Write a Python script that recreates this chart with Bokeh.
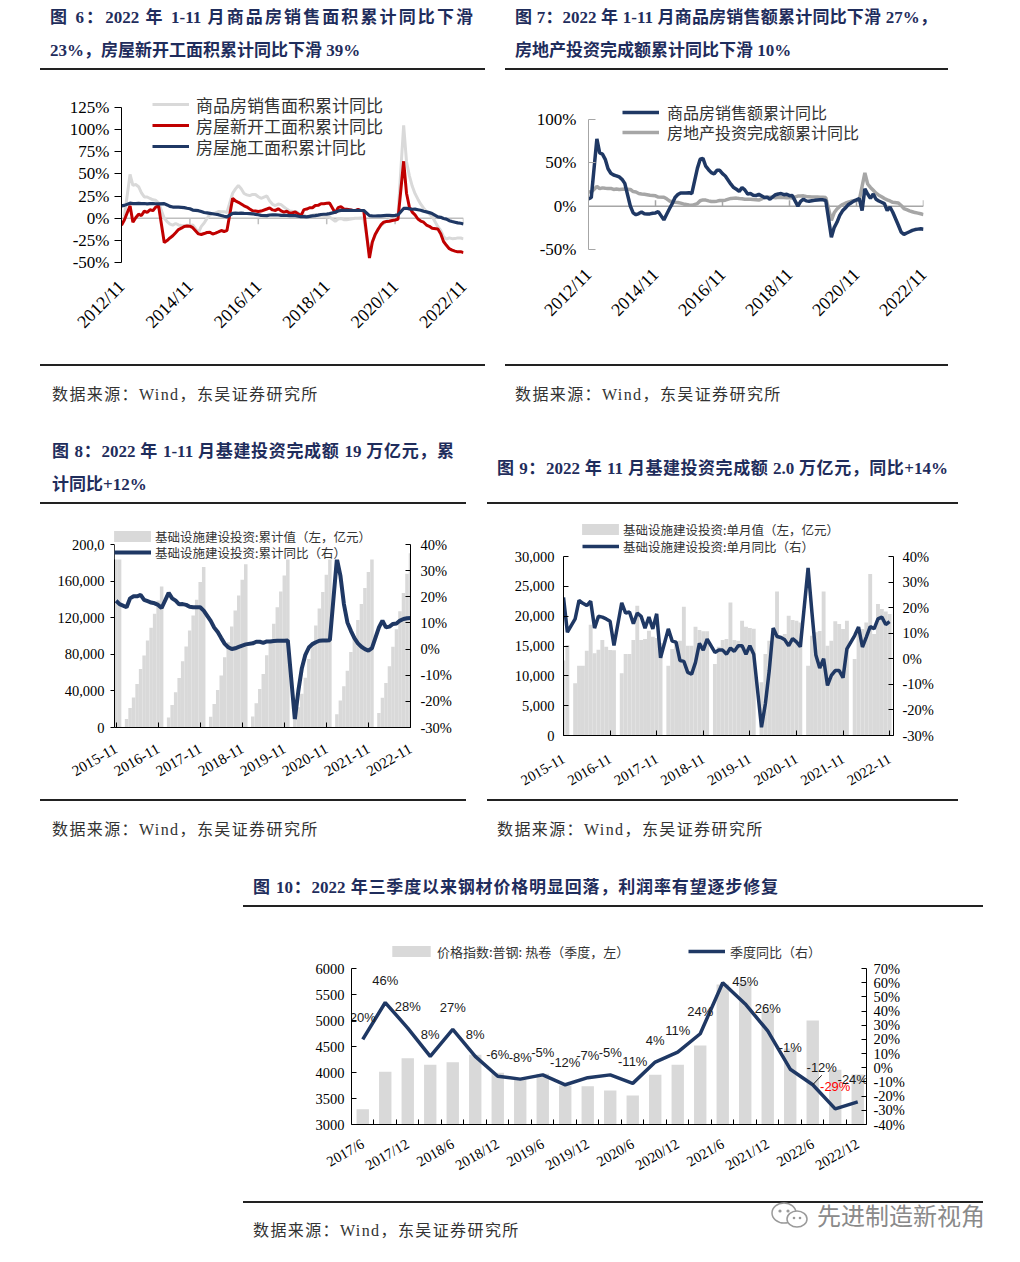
import math
from bokeh.plotting import figure
from bokeh.models import (Range1d, LinearAxis, FixedTicker, PrintfTickFormatter,
                          NumeralTickFormatter, Span, Legend, LegendItem, Div, Spacer,
                          ColumnDataSource, BoxAnnotation)
from bokeh.layouts import row, column
from bokeh.core.properties import value
from bokeh.embed import file_html
from bokeh.resources import INLINE

# ======================= DATA =======================
def months_from(y, m, n, sep):
    out = []
    for _ in range(n):
        out.append(f"{y}{sep}{m}")
        m += 1
        if m == 13:
            m, y = 1, y + 1
    return out

# Fig 6 / Fig 7 : monthly, 2012/11 .. 2022/11 (January not published -> None)
f6_months = months_from(2012, 11, 121, "/")

f6_sales_area = [
    None, 1.8,
    None, 49.5, 37.1, 38.0, 35.6, 28.7, 24.0, 24.0, 22.3, 20.8, 20.3, 17.3,
    None, -0.1, -3.8, -6.7, -7.8, -6.0, -7.6, -8.3, -8.6, -7.8, -8.2, -7.6,
    None, -16.3, -9.2, -5.4, -0.2, 3.9, 5.1, 6.1, 7.5, 7.2, 7.4, 6.5,
    None, 28.2, 33.1, 37.0, 33.2, 27.9, 26.4, 25.5, 26.9, 26.8, 24.3, 22.5,
    None, 25.1, 19.5, 15.7, 14.3, 16.1, 15.3, 12.7, 10.3, 8.2, 7.9, 7.7,
    None, 4.1, 3.6, 1.3, 2.9, 3.3, 4.2, 4.0, 2.9, 2.2, 1.4, 1.3,
    None, -3.6, -0.9, -0.3, -1.6, -1.8, -1.3, -0.6, -0.1, 0.1, 0.2, -0.1,
    None, -39.9, -26.3, -19.3, -12.3, -8.4, -5.8, -3.3, -1.8, 0.0, 1.3, 2.6,
    None, 104.9, 63.8, 48.1, 36.3, 27.7, 21.5, 15.9, 11.3, 7.5, 4.8, 1.9,
    None, -9.6, -13.8, -20.9, -23.6, -22.2, -23.1, -23.0, -22.2, -22.3, -23.3,
]
f6_new_start = [
    -8.0, -2.0,
    None, 14.0, -4.5, 0.5, 4.5, 3.0, 8.0, 6.5, 9.5, 8.5, 12.5, 14.0,
    None, -27.4, -25.2, -22.3, -19.8, -16.4, -12.8, -11.3, -9.3, -8.8, -9.0, -10.7,
    None, -17.7, -18.4, -17.3, -16.1, -15.8, -17.8, -16.8, -15.4, -13.9, -15.0, -14.0,
    None, 22.5, 19.5, 18.0, 16.0, 14.0, 12.6, 10.5, 8.5, 8.2, 7.6, 8.1,
    None, 10.4, 11.6, 9.4, 8.8, 10.6, 8.3, 6.9, 7.8, 5.6, 6.2, 7.0,
    None, 2.9, 9.7, 10.3, 11.8, 11.8, 14.4, 14.5, 16.4, 16.3, 16.8, 17.2,
    None, 6.0, 11.9, 13.1, 10.5, 10.1, 9.5, 8.9, 8.6, 10.0, 8.6, 8.5,
    None, -44.9, -27.2, -18.4, -12.8, -7.6, -4.5, -3.6, -3.4, -2.6, -2.0, -1.2,
    None, 64.3, 28.2, 12.8, 6.9, 3.8, -0.9, -3.2, -4.5, -7.7, -9.1, -11.4,
    None, -12.2, -17.5, -26.3, -30.6, -34.4, -36.1, -37.2, -38.0, -37.8, -38.9,
]
f6_construction = [
    14.0, 14.5,
    None, 17.0, 16.5, 16.5, 16.8, 16.5, 16.6, 16.2, 16.4, 16.5, 16.3, 16.1,
    None, 16.5, 15.0, 13.3, 12.6, 12.6, 12.5, 12.3, 12.0, 11.3, 10.7, 9.2,
    None, 8.5, 7.5, 6.5, 6.0, 5.5, 5.0, 4.5, 4.0, 3.0, 2.2, 1.5,
    None, 5.5, 5.8, 5.4, 5.8, 5.5, 5.3, 5.2, 5.0, 4.4, 3.9, 3.2,
    None, 2.9, 3.6, 3.8, 3.8, 3.6, 3.3, 3.2, 3.1, 3.0, 2.9, 3.0,
    None, 1.7, 1.8, 1.6, 2.0, 2.6, 3.0, 3.5, 4.2, 4.5, 4.7, 5.2,
    None, 6.8, 8.2, 8.8, 8.8, 8.8, 9.0, 8.8, 8.7, 9.0, 8.7, 8.7,
    None, 2.9, 2.6, 2.5, 2.6, 2.6, 2.9, 3.1, 3.1, 3.0, 3.2, 3.7,
    None, 11.0, 11.2, 10.5, 10.1, 10.2, 9.6, 9.0, 7.9, 7.1, 6.3, 5.2,
    None, 1.5, 1.0, -0.3, -1.0, -2.8, -3.7, -4.5, -5.3, -5.7, -6.5,
]

f7_sales_value = [
    8.5, 10.0,
    None, 77.7, 61.4, 60.0, 54.0, 43.2, 38.0, 36.0, 35.0, 33.7, 31.0, 26.3,
    None, -0.1, -7.7, -9.9, -8.5, -6.7, -8.7, -8.9, -8.9, -8.1, -7.8, -6.3,
    None, -15.8, -9.3, -3.0, 3.0, 10.0, 13.4, 15.3, 15.3, 15.1, 15.6, 14.4,
    None, 43.6, 54.1, 55.2, 46.1, 42.1, 38.7, 37.2, 41.3, 41.3, 37.5, 34.8,
    None, 25.4, 21.5, 19.5, 17.1, 21.5, 18.8, 14.1, 14.6, 12.6, 12.2, 13.7,
    None, 10.0, 10.4, 8.0, 10.6, 13.2, 14.1, 14.5, 13.3, 13.7, 12.1, 12.2,
    None, 0.0, 5.6, 8.1, 6.1, 5.6, 6.2, 6.7, 7.1, 7.3, 7.3, 6.5,
    None, -35.9, -24.7, -18.6, -10.6, -5.4, -2.1, 1.6, 3.7, 5.8, 7.2, 8.7,
    -5.0, 20.0, 14.0, 9.0, 14.0, 8.0, 6.0, 4.5, 3.0, -5.0, -1.0, -7.0,
    None, -22.0, -30.0, -32.6, -31.0, -29.5, -28.0, -27.0, -26.5, -26.0, -26.6,
]
f7_investment = [
    16.7, 16.2,
    None, 22.8, 20.2, 21.1, 20.6, 20.3, 20.5, 19.3, 19.7, 19.2, 19.5, 19.8,
    None, 19.3, 16.8, 16.4, 14.7, 14.1, 13.7, 13.2, 12.5, 12.4, 11.9, 10.5,
    None, 10.4, 8.5, 6.0, 5.1, 4.6, 4.3, 3.5, 2.6, 2.0, 1.3, 1.0,
    None, 3.0, 6.2, 7.2, 7.0, 6.1, 5.3, 5.4, 5.8, 6.6, 6.5, 6.9,
    None, 8.9, 9.1, 9.3, 8.8, 8.5, 7.9, 7.9, 8.1, 7.8, 7.5, 7.0,
    None, 9.9, 10.4, 10.3, 10.2, 9.7, 10.2, 10.1, 9.9, 9.7, 9.7, 9.5,
    None, 11.6, 11.8, 11.9, 11.2, 10.9, 10.6, 10.5, 10.5, 10.3, 10.2, 9.9,
    None, -16.3, -7.7, -3.3, -0.3, 1.9, 3.4, 4.6, 5.6, 6.3, 6.8, 7.0,
    None, 38.3, 25.6, 21.6, 18.3, 15.0, 12.7, 10.9, 8.8, 7.2, 6.0, 4.4,
    None, 3.7, 0.7, -2.7, -4.0, -5.4, -6.4, -7.4, -8.0, -8.8, -9.8,
]

# Fig 8 / Fig 9 : monthly, 2015-11 .. 2022-11
f8_months = months_from(2015, 11, 85, "-")

f8_cum_value = [
    186000, 186000,
    None, 9200, 21200, 32900, 47500, 64000, 78600, 95000, 108900, 124200, 138800, 154200,
    None, 11000, 24500, 38400, 54100, 72300, 88400, 106000, 122400, 139600, 158900, 175300,
    None, 11700, 25600, 41000, 56700, 76700, 93200, 110400, 127900, 144300, 161500, 178300,
    None, 12000, 26500, 42000, 58500, 79000, 96000, 113500, 131500, 148500, 166000, 184500,
    None, 8500, 22000, 37000, 54500, 75000, 93000, 111500, 130000, 148000, 167000, 186500,
    None, 14500, 29500, 45000, 62000, 82500, 100000, 117500, 135000, 152500, 170000, 187500,
    None, 15800, 32500, 48600, 67000, 88300, 107500, 127000, 147000, 168000, 190400,
]
f8_cum_yoy = [
    18.5, 17.2,
    None, 16.0, 19.4, 20.2, 20.2, 20.7, 18.8, 18.3, 17.8, 17.5, 16.9, 15.7,
    None, 21.5, 19.4, 18.5, 17.1, 17.2, 16.9, 16.2, 16.0, 16.0, 16.0, 14.7,
    None, 10.8, 8.2, 6.5, 4.2, 2.0, 0.7, 0.0, 0.3, 0.8, 1.3, 1.8,
    None, 2.2, 2.8, 2.8, 2.4, 2.9, 2.9, 3.1, 3.2, 3.2, 3.2, 3.3,
    None, -26.8, -16.0, -7.3, -2.2, 0.6, 1.9, 2.6, 3.2, 3.3, 3.3, 3.4,
    None, 34.5, 28.1, 17.2, 10.2, 7.0, 4.2, 2.2, 0.9, 0.0, -0.6, 0.4,
    None, 8.3, 10.9, 8.3, 8.6, 9.6, 9.8, 10.9, 11.5, 11.8, 11.9,
]
f9_month_value = [
    12550, 15170,
    None, 8750, 11710, 11710, 14220, 18570, 13770, 14390, 16000, 14890, 14330, 14300,
    None, 10430, 13660, 13660, 16000, 21750, 16000, 16170, 17570, 16560, 16340, 15500,
    None, 11710, 14500, 15610, 15900, 21580, 15060, 15060, 18240, 17680, 17460, 17460,
    None, 12000, 14890, 16000, 16170, 22300, 16000, 15900, 19240, 18240, 18000, 17900,
    None, 8920, 13660, 15890, 16730, 24150, 16730, 17010, 20080, 19350, 19240, 18950,
    None, 11710, 16730, 17290, 17500, 24150, 15060, 15900, 19130, 18690, 17850, 19240,
    None, 12830, 17570, 17850, 18950, 27050, 17010, 22030, 21200, 20800, 20360,
]
f9_month_yoy = [
    24.0, 10.4,
    None, 15.6, 22.8, 21.7, 20.8, 22.5, 12.0, 16.6, 16.3, 15.6, 14.7, 5.2,
    None, 21.9, 17.9, 18.3, 13.7, 17.9, 16.6, 12.0, 16.3, 11.7, 17.6, 0.4,
    None, 11.7, 6.9, 6.5, -0.7, -1.0, -5.3, -6.0, -1.4, 6.0, 3.4, 7.7,
    None, 2.5, 3.4, 3.4, 1.8, 4.2, 2.9, 5.1, 5.1, 1.8, 5.1, 1.8,
    None, -26.8, -17.6, -4.6, 12.0, 8.7, 8.3, 7.4, 5.1, 7.9, 6.6, 4.7,
    None, 35.5, 18.0, 1.5, -3.6, 0.0, -10.4, -6.5, -4.6, -4.6, -7.4, 3.9,
    None, 9.1, 12.4, 4.6, 8.5, 12.6, 11.7, 15.6, 16.3, 13.4, 14.5,
]

# Fig 10 : quarterly
f10_quarters = ["2017/6", "2017/9", "2017/12", "2018/3", "2018/6", "2018/9", "2018/12",
                "2019/3", "2019/6", "2019/9", "2019/12", "2020/3", "2020/6", "2020/9",
                "2020/12", "2021/3", "2021/6", "2021/9", "2021/12", "2022/3", "2022/6",
                "2022/9", "2022/12"]
f10_price = [3295, 4013, 4276, 4147, 4198, 4340, 3994, 3859, 3974, 3750, 3737, 3654,
             3558, 3955, 4148, 4519, 5692, 5737, 5192, 4462, 5000, 4051, 3962]
f10_yoy = [20, 46, 28, 8, 27, 8, -6, -8, -5, -12, -7, -5, -11, 4, 11, 24, 60, 45, 26,
           -1, -12, -29, -24]
f10_yoy_labels = ["20%", "46%", "28%", "8%", "27%", "8%", "-6%", "-8%", "-5%", "-12%",
                  "-7%", "-5%", "-11%", "4%", "11%", "24%", "", "45%", "26%", "-1%",
                  "-12%", "-29%", "-24%"]

# ======================= STYLE =======================
NAVY = "#1f3864"
RED = "#c00000"
LIGHT = "#d9d9d9"
MID = "#a6a6a6"
BLACK = "#000000"
SERIF = "Liberation Serif"
CJK = "Noto Sans CJK SC"
SANS = "Liberation Sans"


def pts(vals):
    xs = [i for i, v in enumerate(vals) if v is not None]
    ys = [v for v in vals if v is not None]
    return xs, ys


def ext(y0, y1, fh, extra):
    """range whose [y0, y1] fills fh px, with `extra` px of headroom above for legends"""
    return Range1d(y0, y1 + extra * (y1 - y0) / fh)


def make_fig(xr, y0, y1, left, right, top, bottom, fw, fh, extra):
    p = figure(width=left + fw + right, height=top + fh + bottom, x_range=xr,
               y_range=ext(y0, y1, fh, extra),
               output_backend="svg", toolbar_location=None, title=None, margin=0,
               min_border_left=left, min_border_right=right,
               min_border_top=top - extra, min_border_bottom=bottom)
    p.outline_line_color = None
    p.xgrid.visible = False
    p.ygrid.visible = False
    p.background_fill_color = "white"
    p.border_fill_color = "white"
    return p


def style_axis(ax, size, tick_in=0, tick_out=0, standoff=5, line_color=BLACK,
               show_line=True, font=SERIF):
    ax.major_label_text_font = font
    ax.major_label_text_font_size = f"{size}px"
    ax.major_label_text_color = BLACK
    ax.major_label_standoff = standoff
    ax.axis_line_color = line_color if show_line else None
    ax.axis_line_width = 1
    ax.major_tick_line_color = line_color if (tick_in or tick_out) else None
    ax.major_tick_in = tick_in
    ax.major_tick_out = tick_out
    ax.minor_tick_line_color = None


def add_legend(p, label, renderer, x, y, size, h, gw, gh, standoff):
    lg = Legend(items=[LegendItem(label=value(label), renderers=[renderer])],
                location=(x, y), orientation="vertical", margin=0, padding=0,
                spacing=0, glyph_width=gw, glyph_height=gh, label_height=h,
                label_standoff=standoff, label_text_font=CJK,
                label_text_font_size=f"{size}px", label_text_color="#333333",
                border_line_color=None, background_fill_alpha=0.0)
    p.add_layout(lg, "center")


# ----------------------- Fig 6 -----------------------
p6 = make_fig(Range1d(0, 120), -50, 125, 81, 22, 37, 93, 342, 155, 22)
ya = p6.yaxis[0]
ya.ticker = FixedTicker(ticks=list(range(-50, 126, 25)))
ya.formatter = PrintfTickFormatter(format="%d%%")
ya.bounds = (-50, 125)
style_axis(ya, 17, tick_out=7, standoff=5)
xa = p6.xaxis[0]
t6 = [i for i in range(len(f6_months)) if i % 24 == 0]
xa.ticker = FixedTicker(ticks=t6)
xa.major_label_overrides = {i: f6_months[i] for i in t6}
style_axis(xa, 18, standoff=21, show_line=False)
xa.major_label_orientation = math.pi / 4
p6.add_layout(Span(location=0, dimension="width", line_color="#bfbfbf", line_width=1.5,
                   level="underlay"))
tl6 = 6 * 175 / 155
p6.segment(x0=t6[1:], y0=[0] * len(t6[1:]), x1=t6[1:], y1=[-tl6] * len(t6[1:]),
           line_color="#bfbfbf", line_width=1.5, level="underlay")
r6a = p6.line(*pts(f6_sales_area), line_color=LIGHT, line_width=3)
r6b = p6.line(*pts(f6_new_start), line_color=RED, line_width=3)
r6c = p6.line(*pts(f6_construction), line_color=NAVY, line_width=3.2)
add_legend(p6, "商品房销售面积累计同比", r6a, 31, 145, 17, 26, 37, 26, 7)
add_legend(p6, "房屋新开工面积累计同比", r6b, 31, 124, 17, 26, 37, 26, 7)
add_legend(p6, "房屋施工面积累计同比", r6c, 31, 103, 17, 26, 37, 26, 7)

# ----------------------- Fig 7 -----------------------
p7 = make_fig(Range1d(0, 120), -50, 100, 83, 27, 49, 106, 335, 130, 24)
ya = p7.yaxis[0]
ya.ticker = FixedTicker(ticks=[-50, 0, 50, 100])
ya.formatter = PrintfTickFormatter(format="%d%%")
ya.bounds = (-50, 100)
style_axis(ya, 17, tick_in=7, standoff=12, line_color=MID)
xa = p7.xaxis[0]
xa.ticker = FixedTicker(ticks=t6)
xa.major_label_overrides = {i: f6_months[i] for i in t6}
style_axis(xa, 18, standoff=22, show_line=False)
xa.major_label_orientation = math.pi / 4
p7.add_layout(Span(location=0, dimension="width", line_color=MID, line_width=1.5,
                   level="underlay"))
tl7 = 6 * 150 / 130
p7.segment(x0=t6[1:], y0=[0] * len(t6[1:]), x1=t6[1:], y1=[tl7] * len(t6[1:]),
           line_color=MID, line_width=1.5, level="underlay")
r7b = p7.line(*pts(f7_investment), line_color=MID, line_width=3.5)
r7a = p7.line(*pts(f7_sales_value), line_color=NAVY, line_width=3.5)
add_legend(p7, "商品房销售额累计同比", r7a, 34, 125, 16, 24, 37, 24, 8)
add_legend(p7, "房地产投资完成额累计同比", r7b, 34, 105, 16, 24, 37, 24, 8)

# ----------------------- Fig 8 -----------------------
E8 = 24
FW8, FH8 = 296, 183
X8 = (-0.45, 84.0)
p8 = make_fig(Range1d(*X8), 0, 200000, 74, 55, 40, 67, FW8, FH8, E8)
p8.extra_y_ranges = {"r": ext(-30, 40, FH8, E8)}
ya = p8.yaxis[0]
ya.ticker = FixedTicker(ticks=list(range(0, 200001, 40000)))
ya.formatter = NumeralTickFormatter(format="0,0")
ya.major_label_overrides = {200000: "200,0"}
ya.bounds = (0, 200000)
style_axis(ya, 14.5, tick_out=4, standoff=6)
ra = LinearAxis(y_range_name="r", ticker=FixedTicker(ticks=list(range(-30, 41, 10))),
                formatter=PrintfTickFormatter(format="%d%%"), bounds=(-30, 40))
style_axis(ra, 14.5, tick_in=5, standoff=10)
p8.add_layout(ra, "right")
xa = p8.xaxis[0]
t8 = [i for i in range(len(f8_months)) if i % 12 == 0]
xa.ticker = FixedTicker(ticks=t8)
xa.major_label_overrides = {i: f8_months[i] for i in t8}
style_axis(xa, 15, tick_in=5, standoff=20)
xa.major_label_orientation = math.radians(30)
bx, by = pts(f8_cum_value)
r8a = p8.vbar(x=bx, top=by, bottom=0, width=1.0, fill_color=LIGHT, line_color=None)
r8b = p8.line(*pts(f8_cum_yoy), y_range_name="r", line_color=NAVY, line_width=4)
# white panel behind the legend (legend box of the original), given in frame pixels
ypx8 = 200000 / FH8
xpx8 = (X8[1] - X8[0]) / FW8
p8.add_layout(BoxAnnotation(left=X8[0], right=X8[0] + 262 * xpx8,
                            bottom=168 * ypx8, top=202 * ypx8,
                            fill_color="white", fill_alpha=1.0, line_color=None))
add_legend(p8, "基础设施建设投资:累计值（左，亿元）", r8a, -5, 181, 12.5, 20, 46, 14, 0)
add_legend(p8, "基础设施建设投资:累计同比（右）", r8b, 0, 165, 12.5, 20, 37, 20, 4)

# ----------------------- Fig 9 -----------------------
E9 = 42
p9 = make_fig(Range1d(0, 85), 0, 30000, 76, 65, 52, 59, 330, 179, E9)
p9.extra_y_ranges = {"r": ext(-30, 40, 179, E9)}
ya = p9.yaxis[0]
ya.ticker = FixedTicker(ticks=list(range(0, 30001, 5000)))
ya.formatter = NumeralTickFormatter(format="0,0")
ya.bounds = (0, 30000)
style_axis(ya, 14.5, tick_in=5, standoff=9)
ra = LinearAxis(y_range_name="r", ticker=FixedTicker(ticks=list(range(-30, 41, 10))),
                formatter=PrintfTickFormatter(format="%d%%"), bounds=(-30, 40))
style_axis(ra, 14.5, tick_in=5, standoff=9)
p9.add_layout(ra, "right")
xa = p9.xaxis[0]
xa.ticker = FixedTicker(ticks=t8)
xa.major_label_overrides = {i: f8_months[i] for i in t8}
style_axis(xa, 14.5, tick_in=5, standoff=22)
xa.major_label_orientation = math.radians(30)
bx, by = pts(f9_month_value)
r9a = p9.vbar(x=bx, top=by, bottom=0, width=1.0, fill_color=LIGHT, line_color=None)
r9b = p9.line(*pts(f9_month_yoy), y_range_name="r", line_color=NAVY, line_width=3.5)
add_legend(p9, "基础设施建设投资:单月值（左，亿元）", r9a, 14, 196, 12.5, 20, 46, 14, 0)
add_legend(p9, "基础设施建设投资:单月同比（右）", r9b, 19, 179, 12.5, 20, 37, 20, 4)

# ----------------------- Fig 10 -----------------------
E10 = 34
p10 = make_fig(Range1d(-0.5, 22.39), 3000, 6000, 108, 119, 61, 73, 515, 156, E10)
p10.extra_y_ranges = {"r": ext(-40, 70, 156, E10)}
ya = p10.yaxis[0]
ya.ticker = FixedTicker(ticks=list(range(3000, 6001, 500)))
ya.formatter = PrintfTickFormatter(format="%d")
ya.bounds = (3000, 6000)
style_axis(ya, 14.5, tick_in=5, standoff=7)
ra = LinearAxis(y_range_name="r", ticker=FixedTicker(ticks=list(range(-40, 71, 10))),
                formatter=PrintfTickFormatter(format="%d%%"), bounds=(-40, 70))
style_axis(ra, 14.5, tick_in=5, standoff=7)
p10.add_layout(ra, "right")
idx = list(range(len(f10_quarters)))
xa = p10.xaxis[0]
t10 = idx[::2]
xa.ticker = FixedTicker(ticks=t10, minor_ticks=[i + 0.5 for i in idx[:-1]])
xa.major_label_overrides = {i: f10_quarters[i] for i in t10}
style_axis(xa, 14.5, standoff=18)
xa.major_tick_line_color = None
xa.minor_tick_line_color = BLACK
xa.minor_tick_in = 5
xa.minor_tick_out = 0
xa.major_label_orientation = math.radians(30)
r10a = p10.vbar(x=idx, top=f10_price, bottom=3000, width=0.55, fill_color=LIGHT,
                line_color=None)
r10b = p10.line(idx, f10_yoy, y_range_name="r", line_color=NAVY, line_width=3.5)
nudge = {20: (9, -17), 22: (-5, -22)}
label_colors = {21: "#ff0000"}
src10 = ColumnDataSource(dict(
    x=idx, y=f10_yoy, t=f10_yoy_labels,
    xo=[nudge.get(i, (0, -22))[0] for i in idx],
    yo=[nudge.get(i, (0, -22))[1] for i in idx],
    c=[label_colors.get(i, "#1a1a1a") for i in idx]))
p10.text(x="x", y="y", text="t", x_offset="xo", y_offset="yo", text_color="c",
         source=src10, y_range_name="r", text_font=value(SANS), text_font_size="13px",
         text_align="center", text_baseline="middle")
ux = 22.89 / 515
uy = 110 / 156
lead_i = 20
p10.segment(x0=[idx[lead_i]], y0=[f10_yoy[lead_i]],
            x1=[idx[lead_i] + 9 * ux], y1=[f10_yoy[lead_i] + 9.5 * uy],
            y_range_name="r", line_color="#1a1a1a", line_width=1)
add_legend(p10, "价格指数:普钢: 热卷（季度，左）", r10a, 36, 163, 13, 20, 48, 14, 2)
add_legend(p10, "季度同比（右）", r10b, 337, 163, 13, 20, 37, 20, 5)

# ======================= TEXT BLOCKS =======================
TITLE_FONT = ("font-family:'Liberation Serif','Noto Sans CJK SC',serif;font-weight:bold;"
              "font-size:17px;color:#1f2d5c;")
SRC_FONT = ("font-family:'Liberation Serif','Noto Sans CJK SC',serif;font-size:16px;"
            "color:#333333;letter-spacing:1.4px;")
SRC_TEXT = "数据来源：Wind，东吴证券研究所"


def rule(left, top, width):
    return (f'<div style="position:absolute;left:{left}px;top:{top}px;width:{width}px;'
            f'height:2px;background:#222222;"></div>')


def title_div(width, height, lines, left, text_w, tops, rule_top, rule_w, justify_last):
    html = f'<div style="position:relative;width:{width}px;height:{height}px;">'
    for i, (t, top) in enumerate(zip(lines, tops)):
        last = i == len(lines) - 1
        al = "justify" if (not last or justify_last) else "left"
        html += (f'<div style="position:absolute;left:{left}px;top:{top}px;width:{text_w}px;'
                 f'height:20px;line-height:20px;overflow:visible;text-align:{al};'
                 f'text-align-last:{al};text-justify:inter-character;{TITLE_FONT}">{t}</div>')
    html += rule(0, rule_top, rule_w)
    html += '</div>'
    return Div(text=html, width=width, height=height, margin=0)


def src_div(width, height, rule_top, rule_w, left, text_top, extra=""):
    html = f'<div style="position:relative;width:{width}px;height:{height}px;">'
    html += rule(0, rule_top, rule_w)
    html += (f'<div style="position:absolute;left:{left}px;top:{text_top}px;'
             f'line-height:20px;white-space:nowrap;{SRC_FONT}">{SRC_TEXT}</div>')
    html += extra
    html += '</div>'
    return Div(text=html, width=width, height=height, margin=0)


WATERMARK = (
    '<div style="position:absolute;right:0px;top:3px;height:30px;display:flex;'
    'align-items:center;">'
    '<svg width="42" height="30" viewBox="0 0 42 30">'
    '<ellipse cx="15" cy="13" rx="12" ry="10" fill="white" stroke="#9a9a9a" stroke-width="1.5"/>'
    '<circle cx="11" cy="11" r="1.6" fill="#9a9a9a"/><circle cx="19" cy="11" r="1.6" fill="#9a9a9a"/>'
    '<ellipse cx="28" cy="19" rx="10" ry="8" fill="white" stroke="#9a9a9a" stroke-width="1.5"/>'
    '<circle cx="25" cy="18" r="1.3" fill="#9a9a9a"/><circle cx="31" cy="18" r="1.3" fill="#9a9a9a"/>'
    '</svg>'
    '<span style="font-family:\'Noto Sans CJK SC\';font-size:24px;color:#8a8a8a;'
    'margin-left:6px;">先进制造新视角</span></div>'
)

t6d = title_div(445, 62, ["图 6：2022 年 1-11 月商品房销售面积累计同比下滑",
                          "23%，房屋新开工面积累计同比下滑 39%"],
                10, 423, [0, 33], 60, 445, False)
t7d = title_div(445, 62, ["图 7：2022 年 1-11 月商品房销售额累计同比下滑 27%，",
                          "房地产投资完成额累计同比下滑 10%"],
                10, 422, [0, 33], 60, 443, False)
t8d = title_div(425, 92, ["图 8：2022 年 1-11 月基建投资完成额 19 万亿元，累",
                          "计同比+12%"],
                12, 402, [30, 63], 90, 426, False)
t9d = title_div(471, 92, ["图 9：2022 年 11 月基建投资完成额 2.0 万亿元，同比+14%"],
                10, 451, [47], 90, 471, True)
t10d = title_div(742, 55, ["图 10：2022 年三季度以来钢材价格明显回落，利润率有望逐步修复"],
                 10, 525, [26], 53, 740, True)

s6d = src_div(445, 57, 9, 445, 12, 30)
s7d = src_div(445, 57, 9, 443, 10, 30)
s8d = src_div(425, 58, 5, 426, 12, 26)
s9d = src_div(471, 58, 5, 471, 10, 26)
s10d = src_div(742, 50, 4, 740, 10, 24, WATERMARK)

col6 = column(t6d, p6, s6d, spacing=0, margin=0)
col7 = column(t7d, p7, s7d, spacing=0, margin=0)
col8 = column(t8d, p8, s8d, spacing=0, margin=0)
col9 = column(t9d, p9, s9d, spacing=0, margin=0)
col10 = column(t10d, p10, s10d, spacing=0, margin=0)

rowA = row(Spacer(width=40, height=404, margin=0), col6,
           Spacer(width=20, height=404, margin=0), col7, spacing=0, margin=0)
rowB = row(Spacer(width=40, height=440, margin=0), col8,
           Spacer(width=22, height=440, margin=0), col9, spacing=0, margin=0)
rowC = row(Spacer(width=243, height=395, margin=0), col10, spacing=0, margin=0)

page = column(Spacer(width=10, height=8, margin=0), rowA, rowB, rowC, spacing=0, margin=0)

open("out.html", "w").write(file_html(page, INLINE))
